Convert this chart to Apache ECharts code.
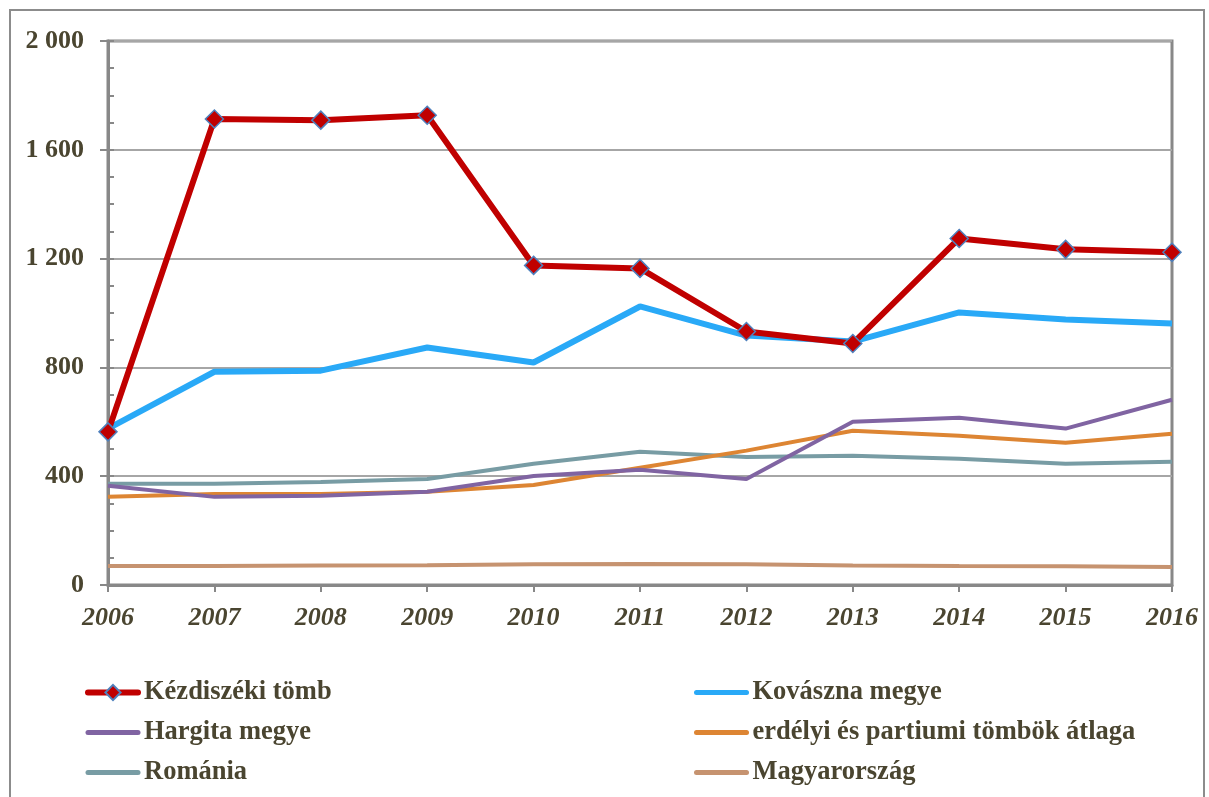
<!DOCTYPE html>
<html>
<head>
<meta charset="utf-8">
<script src="https://cdn.jsdelivr.net/npm/echarts@6/dist/echarts.min.js"></script>
<style>
  html, body { margin: 0; padding: 0; background: #fff; }
  #chart { width: 1209px; height: 797px; }
</style>
</head>
<body>
<div id="chart"></div>
<script>
// évek
const years = ["2006", "2007", "2008", "2009", "2010", "2011", "2012", "2013", "2014", "2015", "2016"];
// sorozatok
const kezdiszek = [563, 1713, 1709, 1727, 1175, 1164, 932, 888, 1274, 1234, 1223];
const kovaszna = [575, 784, 788, 873, 818, 1024, 917, 895, 1002, 976, 961];
const hargita = [365, 324, 328, 343, 401, 424, 390, 600, 615, 575, 681];
const erdelyi = [324, 335, 335, 343, 368, 431, 494, 567, 549, 523, 556];
const romania = [372, 372, 379, 390, 446, 490, 471, 475, 464, 446, 453];
const magyar = [70, 70, 72, 73, 76, 77, 76, 72, 70, 69, 66];

const textColor = "#4a4530";
const font = "Liberation Serif";

const chart = echarts.init(document.getElementById("chart"));

function line(name, data, color, width) {
  return {
    name: name,
    type: "line",
    data: data,
    symbol: "none",
    lineStyle: { color: color, width: width },
    itemStyle: { color: color },
    z: 2,
  };
}

// jelmagyarázat elem: csak vonal, pötty nélkül
function plainItem(name) {
  return { name: name, itemStyle: { opacity: 0 }, lineStyle: { width: 5, cap: "round" } };
}

const legendText = {
  color: textColor,
  fontFamily: font,
  fontWeight: "bold",
  fontSize: 26.5,
  lineHeight: 27,
};

const option = {
  animation: false,
  graphic: [
    {
      type: "rect",
      shape: { x: 10, y: 10, width: 1194, height: 800 },
      style: { fill: "none", stroke: "#8c8c8c", lineWidth: 2 },
      silent: true,
    },
  ],
  grid: {
    left: 108,
    right: 37,
    top: 41,
    bottom: 212,
    show: true,
    borderColor: "#888",
    borderWidth: 3,
  },
  legend: [
    {
      left: 80,
      top: 674,
      orient: "vertical",
      itemGap: 13,
      itemWidth: 50,
      itemHeight: 19,
      textStyle: Object.assign({}, legendText, { padding: [0, 0, 0, 1] }),
      data: [
        { name: "Kézdiszéki tömb", lineStyle: { width: 6, cap: "round" } },
        plainItem("Hargita megye"),
        plainItem("Románia"),
      ],
    },
    {
      left: 689,
      top: 674,
      orient: "vertical",
      itemGap: 13,
      itemWidth: 50,
      itemHeight: 19,
      textStyle: Object.assign({}, legendText, { padding: [0, 0, 0, 1] }),
      data: [
        plainItem("Kovászna megye"),
        plainItem("erdélyi és partiumi tömbök átlaga"),
        plainItem("Magyarország"),
      ],
    },
  ],
  xAxis: {
    type: "category",
    data: years,
    boundaryGap: false,
    axisLine: { lineStyle: { color: "#888", width: 3 } },
    axisTick: { length: 7, lineStyle: { color: "#888", width: 2 } },
    axisLabel: {
      color: textColor,
      fontFamily: font,
      fontWeight: "bold",
      fontStyle: "italic",
      fontSize: 26,
      margin: 20,
    },
  },
  yAxis: [
    {
      type: "value",
      min: 0,
      max: 2000,
      interval: 400,
      axisLine: { show: true, lineStyle: { color: "#888", width: 3 } },
      axisTick: { show: true, length: 8, lineStyle: { color: "#888", width: 2 } },
      splitLine: { lineStyle: { color: "#a6a6a6", width: 2 } },
      axisLabel: {
        color: textColor,
        fontFamily: font,
        fontWeight: "bold",
        fontSize: 26,
        margin: 24,
        formatter: (v) => String(v).replace(/\B(?=(\d{3})+(?!\d))/g, " "),
      },
    },
    {
      // csak a belső kis osztások
      type: "value",
      position: "left",
      min: 0,
      max: 2000,
      interval: 100,
      axisLine: { show: false },
      axisTick: { show: true, inside: true, length: 6, lineStyle: { color: "#888", width: 2 } },
      splitLine: { show: false },
      axisLabel: { show: false },
    },
  ],
  series: [
    line("Magyarország", magyar, "#c69370", 4),
    line("Románia", romania, "#789ca4", 4),
    line("erdélyi és partiumi tömbök átlaga", erdelyi, "#dd8533", 4),
    line("Hargita megye", hargita, "#8064a2", 4),
    {
      name: "Kézdiszéki tömb",
      type: "line",
      data: kezdiszek,
      symbol: "diamond",
      symbolSize: 18,
      lineStyle: { color: "#c00000", width: 6 },
      itemStyle: { color: "#c00000", borderColor: "#4f81bd", borderWidth: 1.5 },
      z: 3,
    },
    line("Kovászna megye", kovaszna, "#29a9f7", 6),
  ],
};

chart.setOption(option);
</script>
</body>
</html>
